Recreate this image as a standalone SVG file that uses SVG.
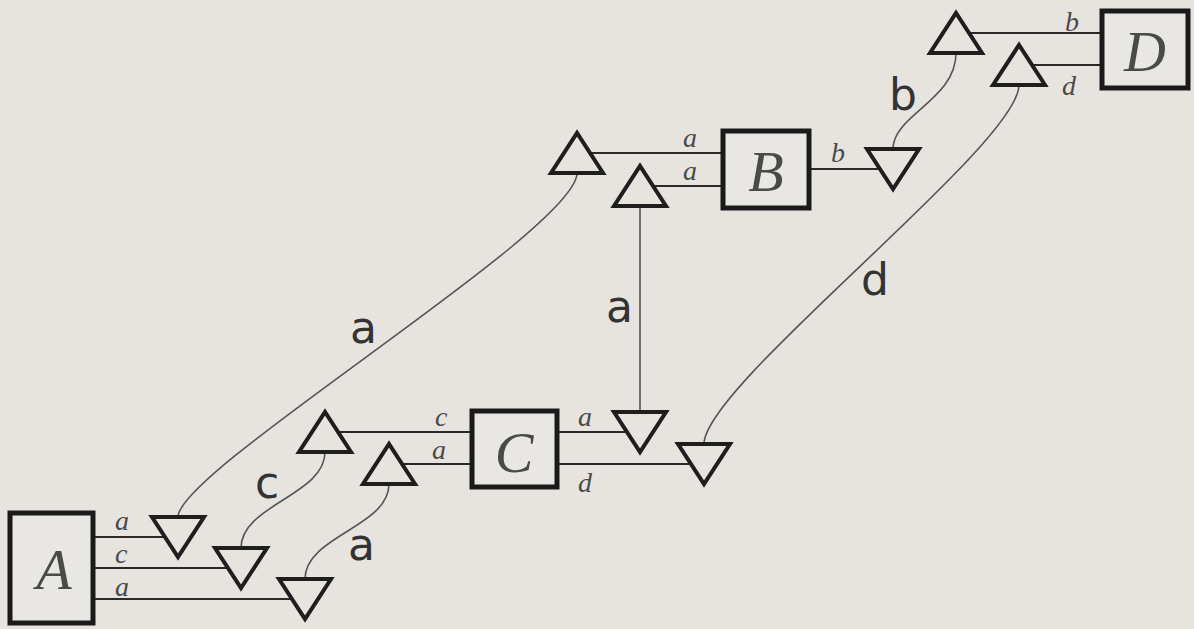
<svg xmlns="http://www.w3.org/2000/svg" xmlns:xlink="http://www.w3.org/1999/xlink" width="1194" height="629" viewBox="0 0 1194 629">
<style>
.bg{fill:#e7e4e0}
.box{fill:#e9e7e4;stroke:#1a1a1a;stroke-width:5}
.tri{fill:#e7e4e0;stroke:#1e1e1e;stroke-width:4;stroke-linejoin:miter}
.wire{stroke:#2a2a2a;stroke-width:2;fill:none}
.curve{stroke:#555;stroke-width:1.6;fill:none}
.big{font-family:"Liberation Serif","DejaVu Serif",serif;font-style:italic;font-size:58px;fill:#4a4a4a;text-anchor:middle}
.sm{font-family:"Liberation Serif","DejaVu Serif",serif;font-style:italic;font-size:28px;fill:#4a4a4a}
.lbl{font-family:"DejaVu Sans","Liberation Sans",sans-serif;font-size:44px;fill:#333}
</style>
<defs>
<path id="up" d="M-26,20 L26,20 L0,-20 Z"/>
<path id="down" d="M-26,-20 L26,-20 L0,20 Z"/>
</defs>
<rect class="bg" x="0" y="0" width="1194" height="629"/>
<g id="connectors">
<path class="wire" d="M93,537 H178 M93,568 H241 M93,599 H305"/>
<path class="wire" d="M325,432 H472 M389,464 H472 M557,432 H640 M557,464 H704"/>
<path class="wire" d="M577,153 H723 M640,186 H723 M809,169 H893"/>
<path class="wire" d="M956,33 H1102 M1019,65 H1102"/>
<path class="curve" d="M178,517 C178,470 577,230 577,173"/>
<path class="curve" d="M241,548 C241,505 325,495 325,452"/>
<path class="curve" d="M305,579 C305,536 389,527 389,484"/>
<path class="curve" d="M640,206 V412"/>
<path class="curve" d="M704,444 C704,385 1019,145 1019,85"/>
<path class="curve" d="M893,149 C893,115 956,100 956,53"/>
<text class="lbl" x="350" y="343">a</text>
<text class="lbl" x="255" y="498">c</text>
<text class="lbl" x="348" y="560">a</text>
<text class="lbl" x="606" y="322">a</text>
<text class="lbl" x="861" y="295">d</text>
<text class="lbl" x="889" y="110">b</text>
</g>
<g id="nodeA">
<rect class="box" x="10" y="513" width="83" height="110"/>
<text class="big" x="54" y="589">A</text>
<text class="sm" x="115" y="530">a</text>
<text class="sm" x="115" y="563">c</text>
<text class="sm" x="115" y="596">a</text>
</g>
<g id="nodeA-outputs">
<use xlink:href="#down" class="tri" x="178" y="537"/>
<use xlink:href="#down" class="tri" x="241" y="568"/>
<use xlink:href="#down" class="tri" x="305" y="599"/>
</g>
<g id="nodeC">
<rect class="box" x="472" y="411" width="85" height="76"/>
<text class="big" x="514" y="472">C</text>
<text class="sm" x="435" y="426">c</text>
<text class="sm" x="432" y="459">a</text>
<text class="sm" x="578" y="426">a</text>
<text class="sm" x="578" y="492">d</text>
</g>
<g id="nodeC-ports">
<use xlink:href="#up" class="tri" x="325" y="432"/>
<use xlink:href="#up" class="tri" x="389" y="464"/>
<use xlink:href="#down" class="tri" x="640" y="432"/>
<use xlink:href="#down" class="tri" x="704" y="464"/>
</g>
<g id="nodeB">
<rect class="box" x="723" y="131" width="86" height="77"/>
<text class="big" x="766" y="191">B</text>
<text class="sm" x="683" y="147">a</text>
<text class="sm" x="683" y="180">a</text>
<text class="sm" x="831" y="162">b</text>
</g>
<g id="nodeB-ports">
<use xlink:href="#up" class="tri" x="577" y="153"/>
<use xlink:href="#up" class="tri" x="640" y="186"/>
<use xlink:href="#down" class="tri" x="893" y="169"/>
</g>
<g id="nodeD">
<rect class="box" x="1102" y="11" width="86" height="77"/>
<text class="big" x="1145" y="71">D</text>
<text class="sm" x="1065" y="31">b</text>
<text class="sm" x="1062" y="95">d</text>
</g>
<g id="nodeD-ports">
<use xlink:href="#up" class="tri" x="956" y="33"/>
<use xlink:href="#up" class="tri" x="1019" y="65"/>
</g>
</svg>
